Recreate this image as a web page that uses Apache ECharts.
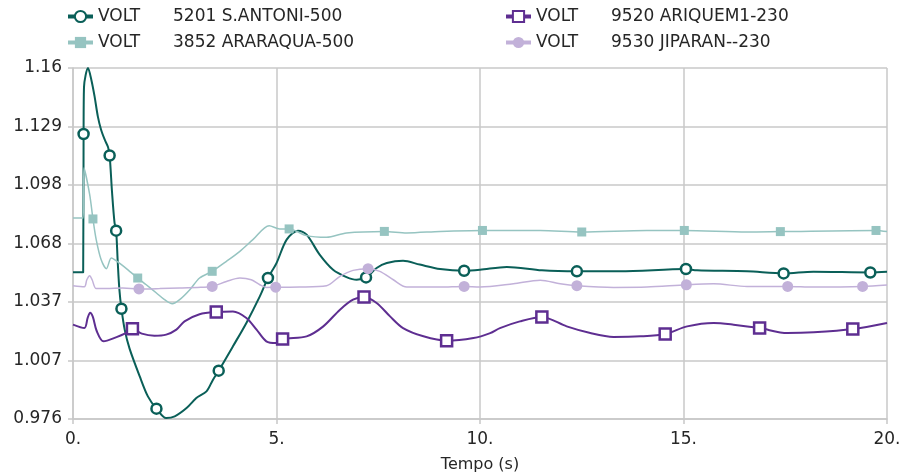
<!DOCTYPE html>
<html>
<head>
<meta charset="utf-8">
<script src="https://cdn.jsdelivr.net/npm/echarts@6/dist/echarts.min.js"></script>
<style>
  html, body { margin: 0; padding: 0; background: #fff; }
  #chart { width: 909px; height: 473px; }
</style>
</head>
<body>
<div id="chart"></div>
<script>
var dom = document.getElementById('chart');
var myChart = echarts.init(dom);

// tick labels
var xTicks = ['0.', '5.', '10.', '15.', '20.'];
var yTicks = ['0.976', '1.007', '1.037', '1.068', '1.098', '1.129', '1.16'];

var names = ['5201 S.ANTONI-500', '3852 ARARAQUA-500', '9520 ARIQUEM1-230', '9530 JIPARAN--230'];

// [tempo, volt]
var santoni = [[0,1.0525],[0.25,1.0525],[0.26,1.1246],[0.27,1.149],[0.37,1.159],[0.45,1.1529],[0.53,1.1442],[0.61,1.1338],[0.69,1.1268],[0.78,1.1216],[0.86,1.1178],[0.9,1.1134],[0.96,1.094],[1.02,1.0784],[1.06,1.0742],[1.1,1.0575],[1.14,1.0434],[1.19,1.0335],[1.27,1.0226],[1.39,1.0127],[1.64,0.9982],[1.84,0.9878],[2.05,0.9814],[2.29,0.9765],[2.5,0.9774],[2.79,0.9817],[3.03,0.9869],[3.28,0.9904],[3.44,0.9965],[3.58,1.0012],[3.93,1.0139],[4.26,1.0261],[4.59,1.0399],[4.79,1.0495],[5.0,1.0573],[5.25,1.0695],[5.53,1.0742],[5.74,1.0721],[6.06,1.0617],[6.39,1.0538],[6.72,1.05],[6.97,1.0486],[7.2,1.0498],[7.46,1.0547],[7.71,1.0573],[8.11,1.0585],[8.52,1.0565],[9.02,1.0542],[9.61,1.0533],[10.0,1.0538],[10.66,1.0553],[11.52,1.0535],[12.38,1.053],[13.44,1.053],[15.06,1.0542],[15.33,1.0535],[16.56,1.053],[17.46,1.0519],[18.19,1.0528],[19.59,1.0524],[20,1.0528]];
var santoniMarks = [0.26,0.9,1.06,1.19,2.05,3.58,4.79,7.2,9.61,12.38,15.06,17.46,19.59];

var araraqua = [[0,1.0808],[0.25,1.0808],[0.27,1.107],[0.41,1.093],[0.49,1.0803],[0.57,1.0695],[0.69,1.0591],[0.82,1.0544],[0.94,1.0599],[1.02,1.0591],[1.19,1.0565],[1.39,1.053],[1.59,1.0495],[1.8,1.046],[2.05,1.0417],[2.25,1.0382],[2.44,1.0361],[2.62,1.0382],[2.87,1.0434],[3.11,1.0495],[3.42,1.053],[3.77,1.0582],[4.1,1.0634],[4.42,1.0695],[4.82,1.0768],[5.08,1.0751],[5.31,1.0751],[5.74,1.0716],[6.23,1.0707],[6.72,1.073],[7.65,1.0738],[8.2,1.073],[9.02,1.0738],[10.06,1.0743],[11.48,1.0743],[12.5,1.0735],[14.1,1.0743],[15.02,1.0743],[16.56,1.0735],[17.38,1.0737],[19.73,1.0743],[20,1.0737]];
var araraquaMarks = [0.49,1.59,3.42,5.31,7.65,10.06,12.5,15.02,17.38,19.73];

var ariquem = [[0,1.0252],[0.28,1.0234],[0.36,1.0287],[0.42,1.0314],[0.49,1.0291],[0.58,1.022],[0.75,1.0165],[1.07,1.0187],[1.27,1.0205],[1.46,1.0231],[1.69,1.0205],[2.0,1.0194],[2.29,1.02],[2.54,1.0226],[2.74,1.0269],[3.11,1.0306],[3.52,1.0318],[3.93,1.0321],[4.26,1.0287],[4.51,1.0226],[4.75,1.0165],[5.0,1.0156],[5.15,1.0177],[5.74,1.0191],[6.15,1.0243],[6.56,1.033],[6.88,1.0382],[7.15,1.0396],[7.46,1.0365],[7.79,1.0295],[8.11,1.0234],[8.61,1.0191],[9.18,1.0168],[9.84,1.0182],[10.25,1.0208],[10.49,1.0234],[10.98,1.0269],[11.52,1.0292],[12.13,1.0243],[12.71,1.0208],[13.28,1.0188],[13.94,1.0191],[14.55,1.0203],[15.09,1.0243],[15.74,1.0261],[16.23,1.0252],[16.87,1.0234],[17.55,1.0208],[18.2,1.0212],[19.16,1.0229],[20,1.0261]];
var ariquemMarks = [1.46,3.52,5.15,7.15,9.18,11.52,14.55,16.87,19.16];

var jiparan = [[0,1.0455],[0.28,1.045],[0.34,1.0486],[0.41,1.0507],[0.47,1.0486],[0.57,1.044],[0.82,1.044],[1.22,1.0443],[1.62,1.0438],[2.13,1.044],[2.62,1.0443],[3.14,1.0447],[3.42,1.0451],[3.77,1.0477],[4.1,1.0495],[4.38,1.0486],[4.59,1.046],[4.75,1.0446],[4.98,1.0447],[5.57,1.0448],[6.23,1.0455],[6.56,1.0504],[6.88,1.0535],[7.25,1.0544],[7.54,1.053],[7.87,1.0486],[8.2,1.0448],[9.02,1.0448],[9.61,1.0451],[10.0,1.0448],[10.82,1.0465],[11.48,1.0483],[11.97,1.0465],[12.38,1.0455],[13.28,1.0446],[14.1,1.0448],[15.07,1.046],[15.74,1.0465],[16.56,1.0451],[17.56,1.0451],[18.2,1.0448],[19.4,1.0451],[20,1.0459]];
var jiparanMarks = [1.62,3.42,4.98,7.25,9.61,12.38,15.07,17.56,19.4];

var yMin = 0.976, yStep = 0.0305;
var font = 'DejaVu Sans';
var textColor = '#262626';
var gridColor = '#c8c8c8';

// only some samples carry a marker
function withMarks(points, marks) {
  return points.map(function (p) {
    var hit = marks.some(function (m) { return Math.abs(m - p[0]) < 1e-9; });
    return hit ? { value: p } : { value: p, symbol: 'none' };
  });
}

function lineSeries(name, points, marks, color, width, symbol, size, hollow) {
  return {
    name: name,
    type: 'line',
    data: withMarks(points, marks),
    smooth: 0.3,
    showSymbol: true,
    showAllSymbol: true,
    symbol: symbol,
    symbolSize: size,
    lineStyle: { color: color, width: width },
    itemStyle: hollow
      ? { color: '#fff', borderColor: color, borderWidth: 2.5 }
      : { color: color, borderWidth: 0 },
    emphasis: { disabled: true }
  };
}

function legendBox(left, data) {
  return {
    left: left,
    top: 8,
    padding: 0,
    orient: 'vertical',
    data: data,
    itemWidth: 25,
    itemHeight: 14,
    itemGap: 9,
    lineStyle: { width: 4 },
    formatter: function (name) { return '{a|VOLT}{b|' + name + '}'; },
    textStyle: {
      color: textColor,
      fontFamily: font,
      fontSize: 17,
      rich: {
        a: { width: 75, fontFamily: font, fontSize: 17, color: textColor },
        b: { fontFamily: font, fontSize: 17, color: textColor }
      }
    }
  };
}

option = {
  animation: false,
  backgroundColor: '#fff',
  grid: { left: 73, right: 22, top: 68, bottom: 54, outerBoundsMode: 'none', containLabel: false },
  legend: [
    legendBox(66, [names[0], names[1]]),
    legendBox(504, [names[2], names[3]])
  ],
  xAxis: {
    type: 'value',
    min: 0,
    max: 20,
    interval: 5,
    name: 'Tempo (s)',
    nameLocation: 'middle',
    nameGap: 38,
    nameTextStyle: { color: textColor, fontFamily: font, fontSize: 16 },
    axisLine: { lineStyle: { color: gridColor, width: 1.5 } },
    axisTick: { show: true, length: 5, lineStyle: { color: gridColor, width: 1.5 } },
    axisLabel: {
      color: textColor, fontFamily: font, fontSize: 17, margin: 12,
      formatter: function (v) { return xTicks[Math.round(v / 5)]; }
    },
    splitLine: { show: true, lineStyle: { color: gridColor, width: 1.5 } }
  },
  yAxis: {
    type: 'value',
    min: yMin,
    max: yMin + 6 * yStep,
    interval: yStep,
    axisLine: { show: true, lineStyle: { color: gridColor, width: 1.5 } },
    axisTick: { show: true, length: 5, lineStyle: { color: gridColor, width: 1.5 } },
    axisLabel: {
      color: textColor, fontFamily: font, fontSize: 17, margin: 11,
      showMinLabel: true,
      showMaxLabel: true,
      formatter: function (v) {
        var i = Math.round((v - yMin) / yStep);
        return yTicks[Math.max(0, Math.min(6, i))];
      }
    },
    splitLine: { show: true, lineStyle: { color: gridColor, width: 1.5 } }
  },
  series: [
    lineSeries(names[0], santoni, santoniMarks, '#0a5f58', 2, 'circle', 10, true),
    lineSeries(names[1], araraqua, araraquaMarks, '#96c4c1', 1.5, 'rect', 9, false),
    lineSeries(names[2], ariquem, ariquemMarks, '#5e2e91', 2, 'rect', 11, true),
    lineSeries(names[3], jiparan, jiparanMarks, '#c2b1d9', 1.5, 'circle', 11, false)
  ]
};

if (option && typeof option === 'object') {
  myChart.setOption(option, true);
}
</script>
</body>
</html>
